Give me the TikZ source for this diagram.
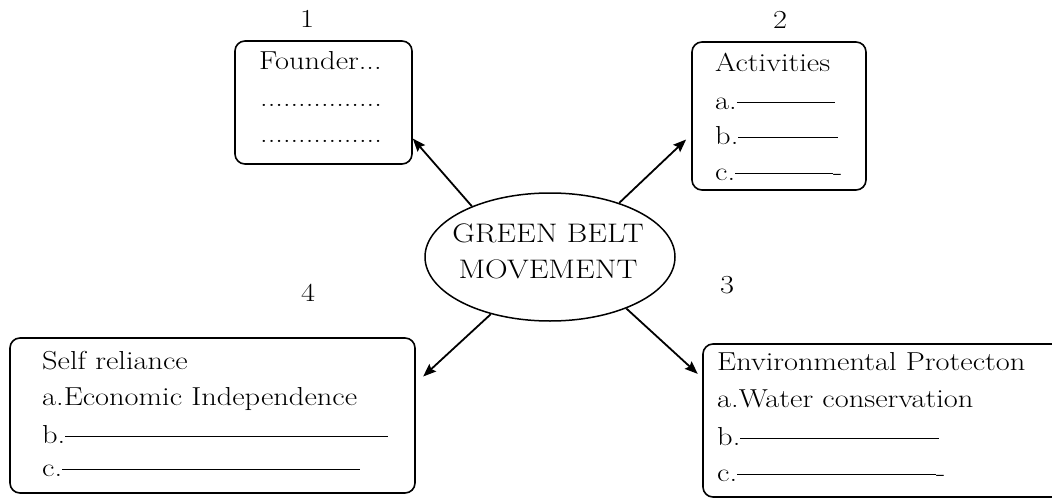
\documentclass[tikz,border=0pt]{standalone}
\usepackage{fontspec}
\setmainfont{Latin Modern Roman}[FakeStretch=1.17]
\usetikzlibrary{shapes.geometric,arrows.meta}
\tikzset{
  box/.style={draw, rounded corners=10pt, line width=1.6pt, inner sep=0pt},
  oval/.style={draw, ellipse, line width=1.5pt, inner sep=0pt, minimum width=250pt, minimum height=128pt},
  txt/.style={inner sep=0pt, anchor=base west, font=\fontsize{26}{36}\selectfont},
  ctxt/.style={inner sep=0pt, anchor=base, font=\fontsize{26.8}{36}\selectfont},
  num/.style={inner sep=0pt, anchor=base, font=\fontsize{26}{36}\selectfont},
  arr/.style={line width=1.8pt, -{Stealth[length=13pt,width=10pt,inset=2pt]}}
}
\newcommand{\blankln}[1]{\rule[6.5pt]{#1}{1pt}}
\newcommand{\dts}{................}
\begin{document}
\begin{tikzpicture}[x=1pt,y=1pt]
\useasboundingbox (0,0) rectangle (1052,499);
% ellipse
\node[oval] (gbm) at (550,242) {};
\node[ctxt] (gbm1) at (548,257) {GREEN BELT};
\node[ctxt] (gbm2) at (548,221) {MOVEMENT};
% box 1
\node[box, minimum width=177pt, minimum height=123pt] (b1) at (323.5,396.5) {};
\node[num] (n1) at (307,471) {1};
\node[txt] (b1a) at (259,429) {Founder...};
\node[txt] (b1b) at (260,392) {\dts};
\node[txt] (b1c) at (260,356) {\dts};
% box 2
\node[box, minimum width=174pt, minimum height=148pt] (b2) at (779,383) {};
\node[num] (n2) at (780,470) {2};
\node[txt] (b2a) at (715,427) {Activities};
\node[txt] (b2b) at (715,389) {a.\blankln{98pt}};
\node[txt] (b2c) at (715,354) {b.\blankln{100pt}};
\node[txt] (b2d) at (715,319) {c.\blankln{98pt}-};
% box 3
\node[box, minimum width=367pt, minimum height=153pt] (b3) at (886.5,78.5) {};
\node[num] (n3) at (727,206) {3};
\node[txt] (b3a) at (717,129) {Environmental Protecton};
\node[txt] (b3b) at (717,92) {a.Water conservation};
\node[txt] (b3c) at (717,54) {b.\blankln{199pt}};
\node[txt] (b3d) at (717,18) {c.\blankln{199pt}-};
% box 4
\node[box, minimum width=405pt, minimum height=155pt] (b4) at (212.5,83.5) {};
\node[num] (n4) at (308,198) {4};
\node[txt] (b4a) at (42,130) {Self reliance};
\node[txt] (b4b) at (42,94) {a.Economic Independence};
\node[txt] (b4c) at (42,56) {b.\blankln{323pt}};
\node[txt] (b4d) at (42,23) {c.\blankln{298pt}};
% arrows
\draw[arr] (gbm.147.3) -- (b1.-22.3);
\draw[arr, shorten >=7pt] (gbm.38.5) -- (b2.192.3);
\draw[arr, shorten >=6pt] (gbm.-34) -- (b3.167);
\draw[arr, shorten >=10pt] (gbm.-136.4) -- (b4.9.4);
\end{tikzpicture}
\end{document}
